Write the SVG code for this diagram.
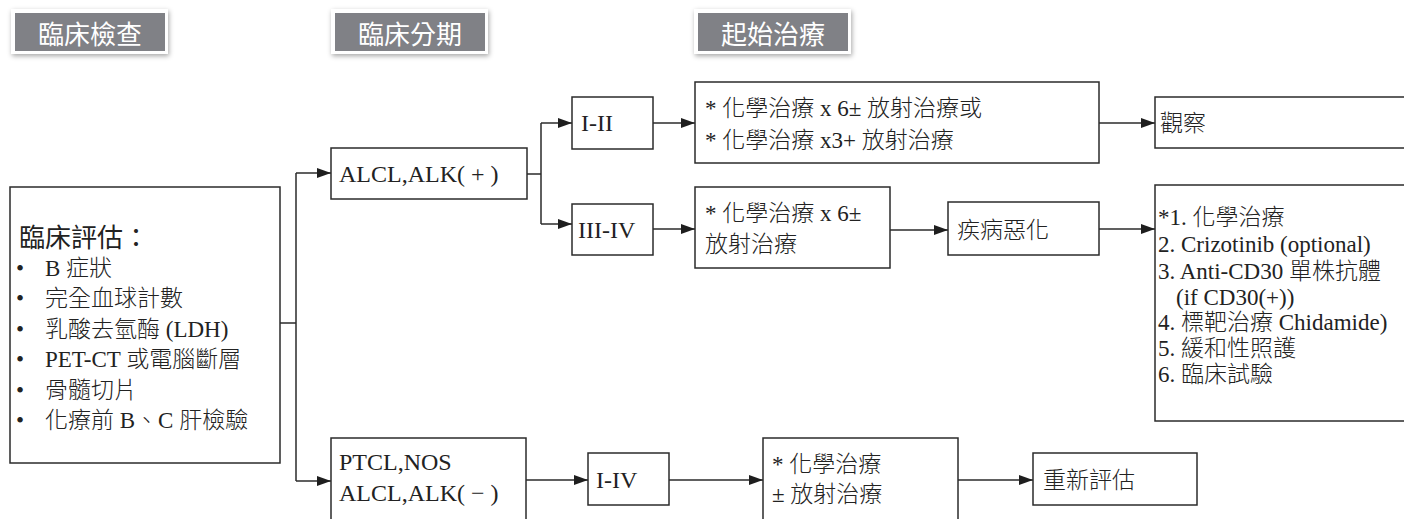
<svg xmlns="http://www.w3.org/2000/svg" width="1404" height="519" viewBox="0 0 1404 519">
  <defs>
    <filter id="tabShadow" x="-20%" y="-40%" width="140%" height="180%">
      <feDropShadow dx="1" dy="2" stdDeviation="2.5" flood-color="#000" flood-opacity="0.35"/>
    </filter>
    <marker id="arrow" markerUnits="userSpaceOnUse" markerWidth="15" markerHeight="11" refX="14" refY="5" orient="auto">
      <path d="M0,0 L14,5 L0,10 Z" fill="#1e1e1e"/>
    </marker>
    <style>
      .box { fill: #fff; stroke: #2b2b2b; stroke-width: 1.5; }
      .tab-frame { fill: #fff; filter: url(#tabShadow); }
      .tab-fill { fill: #808186; }
      .tab-text { font-family: "Noto Sans CJK TC", "Noto Sans", sans-serif; font-size: 26px; fill: #fff; text-anchor: middle; dominant-baseline: central; }
      .txt { font-family: "Liberation Serif", "Noto Sans CJK TC", serif; font-size: 23px; font-weight: 300; fill: #222; }
      .lbl { font-family: "Liberation Serif", "Noto Sans CJK TC", serif; font-size: 24px; fill: #222; }
      .title { font-family: "Noto Sans CJK TC", "Noto Sans", sans-serif; font-size: 26px; fill: #222; dominant-baseline: central; }
      .conn { fill: none; stroke: #2b2b2b; stroke-width: 1.5; }
      .conn-a { fill: none; stroke: #2b2b2b; stroke-width: 1.5; marker-end: url(#arrow); }
    </style>
  </defs>

  <!-- column headings -->
  <g id="tab-exam">
    <rect class="tab-frame" x="11" y="9" width="157" height="45"/>
    <rect class="tab-fill" x="15" y="13" width="150" height="38"/>
    <text class="tab-text" x="90" y="32">臨床檢查</text>
  </g>
  <g id="tab-staging">
    <rect class="tab-frame" x="331" y="9" width="157" height="45"/>
    <rect class="tab-fill" x="335" y="13" width="150" height="38"/>
    <text class="tab-text" x="410" y="32">臨床分期</text>
  </g>
  <g id="tab-treatment">
    <rect class="tab-frame" x="694" y="9" width="157" height="45"/>
    <rect class="tab-fill" x="698" y="13" width="150" height="38"/>
    <text class="tab-text" x="773" y="32">起始治療</text>
  </g>

  <!-- connectors -->
  <g id="connectors">
    <path class="conn" d="M280,323 H296 M296,173 V481"/>
    <path class="conn-a" d="M296,173 H331"/>
    <path class="conn-a" d="M296,481 H331"/>

    <path class="conn" d="M527,174 H541 M541,123 V224"/>
    <path class="conn-a" d="M541,123 H572"/>
    <path class="conn-a" d="M541,224 H572"/>

    <path class="conn-a" d="M653,123 H695"/>
    <path class="conn-a" d="M653,229 H695"/>
    <path class="conn-a" d="M1099,123 H1155"/>
    <path class="conn-a" d="M890,230 H948"/>
    <path class="conn-a" d="M1099,229 H1155"/>

    <path class="conn-a" d="M526,480 H588"/>
    <path class="conn-a" d="M669,480 H763"/>
    <path class="conn-a" d="M958,480 H1033"/>
  </g>

  <!-- clinical assessment -->
  <g id="assessment">
    <rect class="box" x="10" y="187" width="270" height="276"/>
    <text class="title" x="19" y="235">臨床評估：</text>
    <g class="txt">
      <text x="16" y="276">•</text><text x="45" y="276">B 症狀</text>
      <text x="16" y="306">•</text><text x="45" y="306">完全血球計數</text>
      <text x="16" y="337">•</text><text x="45" y="337">乳酸去氫酶 (LDH)</text>
      <text x="16" y="367">•</text><text x="45" y="367">PET-CT 或電腦斷層</text>
      <text x="16" y="398">•</text><text x="45" y="398">骨髓切片</text>
      <text x="16" y="428">•</text><text x="45" y="428">化療前 B、C 肝檢驗</text>
    </g>
  </g>

  <!-- staging -->
  <g id="alk-positive">
    <rect class="box" x="331" y="148" width="196" height="51"/>
    <text class="lbl" x="339" y="182">ALCL,ALK( + )</text>
  </g>
  <g id="alk-negative">
    <rect class="box" x="331" y="438" width="195" height="90"/>
    <text class="lbl" x="339" y="470">PTCL,NOS</text>
    <text class="lbl" x="339" y="501">ALCL,ALK( − )</text>
  </g>
  <g id="stage-1-2">
    <rect class="box" x="572" y="97" width="81" height="52"/>
    <text class="lbl" x="581" y="131">I-II</text>
  </g>
  <g id="stage-3-4">
    <rect class="box" x="572" y="204" width="81" height="51"/>
    <text class="lbl" x="578" y="238">III-IV</text>
  </g>
  <g id="stage-1-4">
    <rect class="box" x="588" y="453" width="81" height="52"/>
    <text class="lbl" x="596" y="488">I-IV</text>
  </g>

  <!-- initial treatment -->
  <g id="treat-early">
    <rect class="box" x="695" y="82" width="404" height="81"/>
    <text class="txt" x="705" y="116">* 化學治療 x 6± 放射治療或</text>
    <text class="txt" x="705" y="148">* 化學治療 x3+ 放射治療</text>
  </g>
  <g id="treat-advanced">
    <rect class="box" x="695" y="187" width="195" height="81"/>
    <text class="txt" x="705" y="221">* 化學治療 x 6±</text>
    <text class="txt" x="705" y="252">放射治療</text>
  </g>
  <g id="progression">
    <rect class="box" x="948" y="202" width="151" height="53"/>
    <text class="txt" x="957" y="238">疾病惡化</text>
  </g>
  <g id="observe">
    <rect class="box" x="1155" y="97" width="260" height="51"/>
    <text class="txt" x="1160" y="131">觀察</text>
  </g>
  <g id="salvage">
    <rect class="box" x="1155" y="185" width="260" height="236"/>
    <g class="txt">
      <text x="1158" y="225">*1. 化學治療</text>
      <text x="1158" y="252">2. Crizotinib (optional)</text>
      <text x="1158" y="279">3. Anti-CD30 單株抗體</text>
      <text x="1176" y="305">(if CD30(+))</text>
      <text x="1158" y="330">4. 標靶治療 Chidamide)</text>
      <text x="1158" y="356">5. 緩和性照護</text>
      <text x="1158" y="382">6. 臨床試驗</text>
    </g>
  </g>
  <g id="treat-ptcl">
    <rect class="box" x="763" y="438" width="195" height="90"/>
    <text class="txt" x="772" y="472">* 化學治療</text>
    <text class="txt" x="772" y="502">± 放射治療</text>
  </g>
  <g id="reassess">
    <rect class="box" x="1033" y="453" width="164" height="52"/>
    <text class="txt" x="1043" y="488">重新評估</text>
  </g>
</svg>
